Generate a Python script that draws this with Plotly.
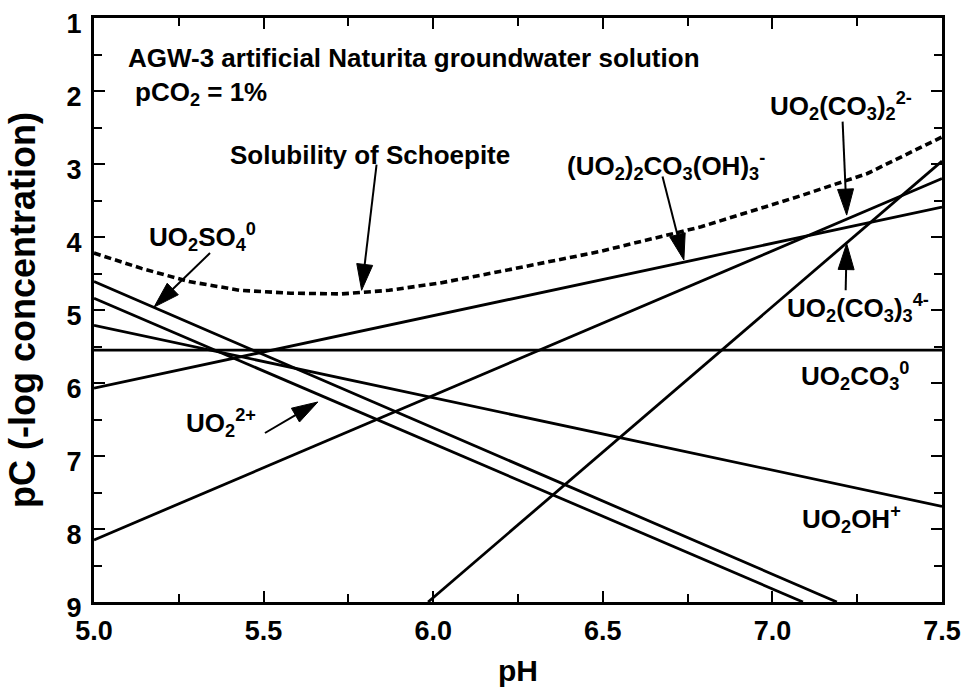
import math
import plotly.graph_objects as go

# ---------------- data ----------------
ph_schoepite = [5.0, 5.14, 5.28, 5.43, 5.58, 5.73, 5.87, 6.02, 6.2, 6.49, 6.79, 7.08, 7.28, 7.5]
pc_schoepite = [4.22, 4.43, 4.61, 4.73, 4.77, 4.78, 4.73, 4.63, 4.47, 4.20, 3.86, 3.44, 3.13, 2.63]

ph_uo2so4 = [5.0, 7.19]
pc_uo2so4 = [4.61, 9.0]
ph_uo2 = [5.0, 7.09]
pc_uo2 = [4.84, 9.0]
ph_uo2oh = [5.0, 7.5]
pc_uo2oh = [5.21, 7.69]
ph_uo2co3 = [5.0, 7.5]
pc_uo2co3 = [5.55, 5.55]
ph_dimer = [5.0, 7.5]
pc_dimer = [6.07, 3.59]
ph_dicarb = [5.0, 7.5]
pc_dicarb = [8.15, 3.20]
ph_tricarb = [5.985, 7.5]
pc_tricarb = [9.0, 2.96]

x_ticks = [5.0, 5.5, 6.0, 6.5, 7.0, 7.5]
x_ticktext = ["5.0", "5.5", "6.0", "6.5", "7.0", "7.5"]
y_ticks = [1, 2, 3, 4, 5, 6, 7, 8, 9]
y_ticktext = ["1", "2", "3", "4", "5", "6", "7", "8", "9"]

# ---------------- geometry ----------------
W, H = 962, 687
ML, MR, MT, MB = 94, 20, 18, 85
XR = (5.0, 7.5)
YR = (1.0, 9.0)   # 1 at top, 9 at bottom
PW = W - ML - MR
PH = H - MT - MB

def to_px(x, y):
    return (ML + (x - XR[0]) / (XR[1] - XR[0]) * PW,
            MT + (y - YR[0]) / (YR[1] - YR[0]) * PH)

def to_data(px, py):
    return (XR[0] + (px - ML) / PW * (XR[1] - XR[0]),
            YR[0] + (py - MT) / PH * (YR[1] - YR[0]))

FONT = "Liberation Sans, Arial, sans-serif"
BLACK = "#000000"

fig = go.Figure()

def add_line(xs, ys, dash="solid", width=2.8):
    fig.add_trace(go.Scatter(x=xs, y=ys, mode="lines",
                             line=dict(color=BLACK, width=width, dash=dash),
                             showlegend=False, hoverinfo="skip"))

add_line(ph_uo2so4, pc_uo2so4)
add_line(ph_uo2, pc_uo2)
add_line(ph_uo2oh, pc_uo2oh)
add_line(ph_uo2co3, pc_uo2co3)
add_line(ph_dimer, pc_dimer)
add_line(ph_dicarb, pc_dicarb)
add_line(ph_tricarb, pc_tricarb)
add_line(ph_schoepite, pc_schoepite, dash="7px,4px", width=3.6)

# ---------------- labels ----------------
labels = [
    ("AGW-3 artificial Naturita groundwater solution", 5.094, 1.55, "left"),
    ("pCO<sub>2</sub> = 1%", 5.115, 2.04, "left"),
    ("Solubility of Schoepite", 5.814, 2.87, "center"),
    ("UO<sub>2</sub>SO<sub>4</sub><sup>0</sup>", 5.321, 4.0, "center"),
    ("(UO<sub>2</sub>)<sub>2</sub>CO<sub>3</sub>(OH)<sub>3</sub><sup>-</sup>", 6.686, 3.03, "center"),
    ("UO<sub>2</sub>(CO<sub>3</sub>)<sub>2</sub><sup>2-</sup>", 7.202, 2.2, "center"),
    ("UO<sub>2</sub>(CO<sub>3</sub>)<sub>3</sub><sup>4-</sup>", 7.252, 4.97, "center"),
    ("UO<sub>2</sub>CO<sub>3</sub><sup>0</sup>", 7.243, 5.9, "center"),
    ("UO<sub>2</sub>OH<sup>+</sup>", 7.232, 7.86, "center"),
    ("UO<sub>2</sub><sup>2+</sup>", 5.374, 6.55, "center"),
]
for txt, x, y, anchor in labels:
    fig.add_annotation(x=x, y=y, xref="x", yref="y", text=txt, showarrow=False,
                       xanchor=anchor, yanchor="middle",
                       font=dict(family=FONT, size=26, color=BLACK, weight="bold"))

# ---------------- arrows (tail -> tip, data coords) ----------------
arrows = [
    ((5.833, 3.01), (5.789, 4.73)),   # Solubility of Schoepite
    ((6.676, 3.17), (6.739, 4.315)),  # (UO2)2CO3(OH)3-
    ((7.207, 2.42), (7.219, 3.70)),   # UO2(CO3)2 2-
    ((7.216, 4.73), (7.219, 4.09)),   # UO2(CO3)3 4-
    ((5.342, 4.22), (5.177, 4.96)),   # UO2SO4 0
    ((5.504, 6.685), (5.660, 6.26)),  # UO2 2+
]
HEAD_L, HEAD_W = 26.0, 16.0
for (tx, ty), (hx, hy) in arrows:
    p0 = to_px(tx, ty)
    p1 = to_px(hx, hy)
    dx, dy = p1[0] - p0[0], p1[1] - p0[1]
    n = math.hypot(dx, dy)
    ux, uy = dx / n, dy / n
    bx, by = p1[0] - HEAD_L * ux, p1[1] - HEAD_L * uy
    nx, ny = -uy, ux
    c1 = to_data(bx + HEAD_W / 2 * nx, by + HEAD_W / 2 * ny)
    c2 = to_data(bx - HEAD_W / 2 * nx, by - HEAD_W / 2 * ny)
    sb = to_data(bx + 2 * ux, by + 2 * uy)
    fig.add_shape(type="line", xref="x", yref="y", x0=tx, y0=ty, x1=sb[0], y1=sb[1],
                  line=dict(color=BLACK, width=2))
    fig.add_shape(type="path", xref="x", yref="y",
                  path=f"M {hx},{hy} L {c1[0]},{c1[1]} L {c2[0]},{c2[1]} Z",
                  fillcolor=BLACK, line=dict(color=BLACK, width=1))

axis_common = dict(
    showgrid=False, zeroline=False, showline=True, linecolor=BLACK, linewidth=3,
    mirror="ticks", ticks="inside", ticklen=11, tickwidth=1.5, tickcolor=BLACK,
    tickfont=dict(family=FONT, size=27, color=BLACK, weight="bold"),
)

fig.update_layout(
    width=W, height=H,
    margin=dict(l=ML, r=MR, t=MT, b=MB, autoexpand=False),
    paper_bgcolor="white", plot_bgcolor="white",
    xaxis=dict(range=list(XR), tickvals=x_ticks, ticktext=x_ticktext,
               minor=dict(dtick=0.25, ticks="inside", ticklen=8, tickwidth=1.5, tickcolor=BLACK),
               ticklabelstandoff=3,
               title=dict(text="pH", font=dict(family=FONT, size=30, color=BLACK, weight="bold"),
                          standoff=20),
               **axis_common),
    yaxis=dict(range=[YR[1], YR[0]], tickvals=y_ticks, ticktext=y_ticktext,
               minor=dict(dtick=0.5, ticks="inside", ticklen=8, tickwidth=1.5, tickcolor=BLACK),
               ticklabelstandoff=4, ticklabelshift=-6,
               title=dict(text="pC (-log concentration)",
                          font=dict(family=FONT, size=36, color=BLACK, weight="bold"),
                          standoff=20),
               **axis_common),
)

fig.write_html("out.html",
               config={"displayModeBar": False},
               post_script="document.body.style.margin='0';document.body.style.overflow='hidden';")
